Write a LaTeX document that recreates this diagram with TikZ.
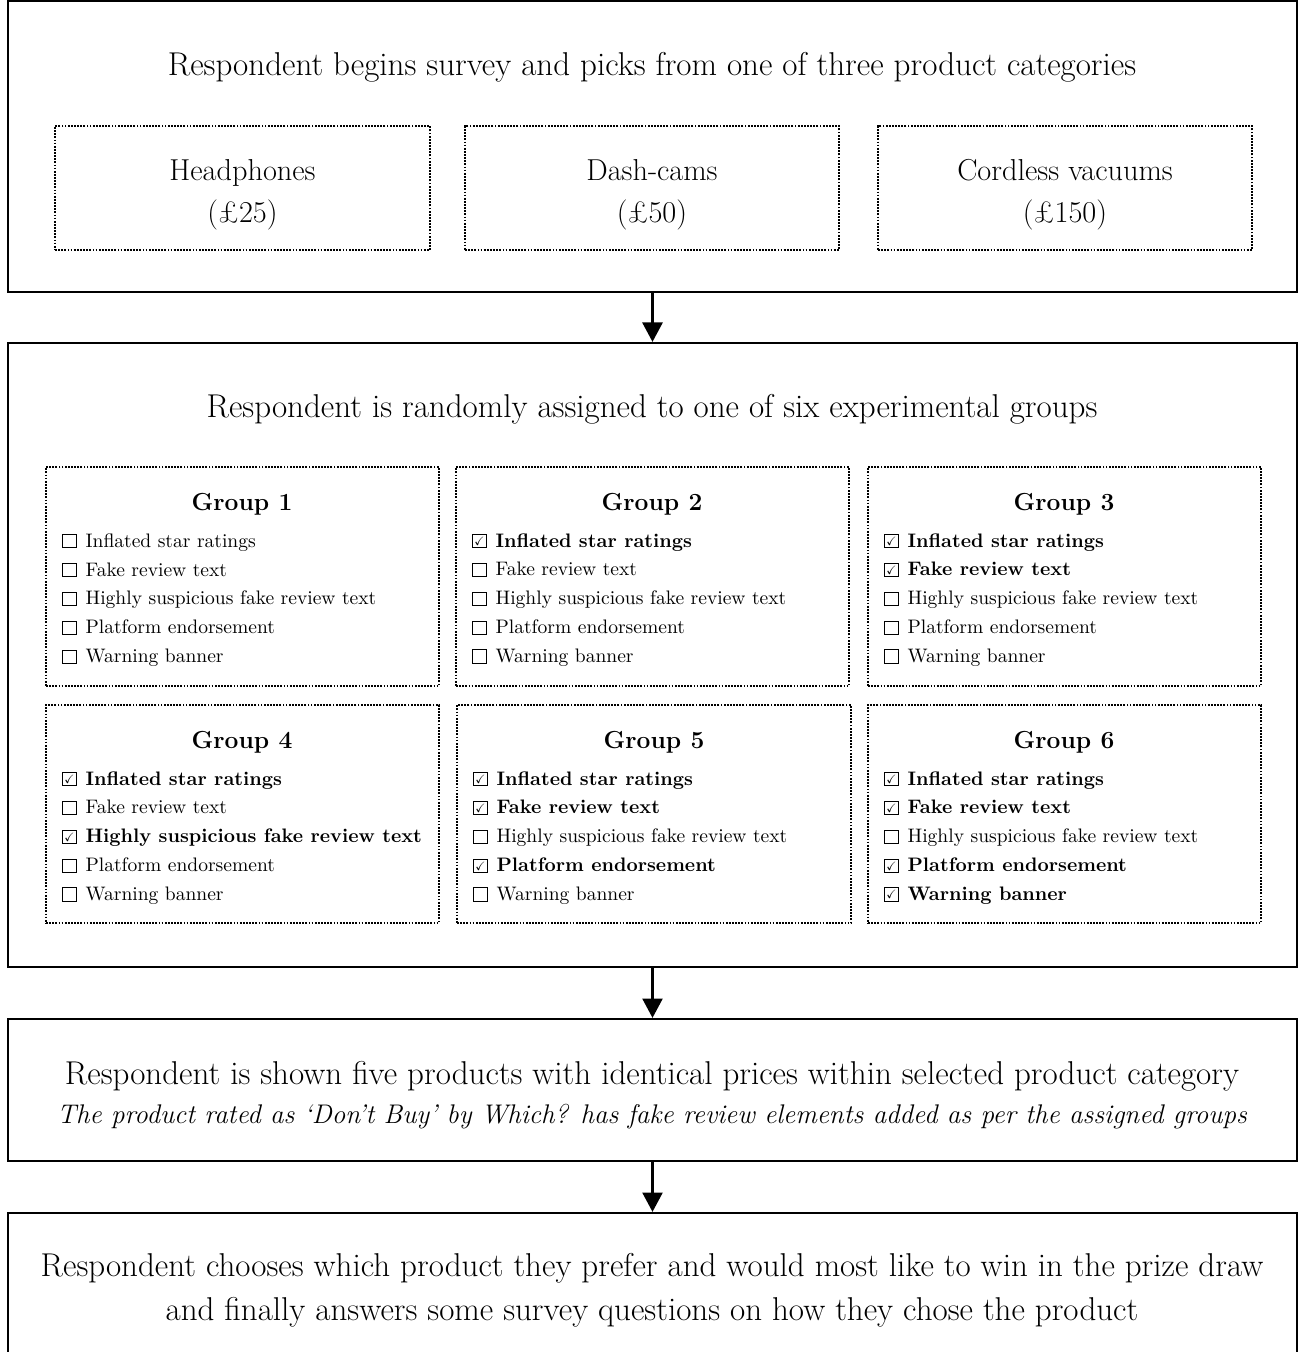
\documentclass[tikz,border=0pt]{standalone}
\usepackage{amssymb}
\usetikzlibrary{arrows.meta,fit}

\newcommand{\emptybox}{{\fboxsep=0pt\fboxrule=0.5pt\fbox{\rule{0pt}{6.3pt}\hspace{6.3pt}}}}
\newcommand{\tickbox}{\makebox[0pt][l]{\emptybox}\makebox[7.3pt]{\raisebox{0.9pt}{\scalebox{0.62}{$\checkmark$}}}}
\newcommand{\optoff}[1]{\emptybox\hspace{4.6pt}#1}
\newcommand{\opton}[1]{\tickbox\hspace{4.6pt}\textbf{#1}}

\tikzset{
  stagebox/.style={draw, line width=1pt, inner sep=0pt},
  choicebox/.style={draw, dash pattern=on 0.9pt off 0.7pt, line width=0.9pt, inner sep=0pt},
  bigtext/.style={font=\fontsize{16.9}{22.5}\selectfont, align=center},
  cattext/.style={font=\fontsize{15.5}{21.5}\selectfont, align=center},
  grouphead/.style={font=\fontsize{12.6}{15}\selectfont\bfseries},
  optlist/.style={font=\fontsize{10}{14.8}\selectfont, align=left, anchor=north west, inner sep=0pt},
  flow/.style={-{Triangle[length=10pt,width=10pt]}, line width=2pt}
}

\begin{document}
\begin{tikzpicture}[x=0.512pt,y=-0.512pt]
    \useasboundingbox (0,0) rectangle (1299,1352);

    % stage 1: product category
    \node[stagebox, fit={(8,1) (1297,292)}] (cat) {};
    \node[bigtext] (cattitle) at (652,67) {Respondent begins survey and picks from one of three product categories};
    \node[choicebox, fit={(55,126) (430,250)}] (hp) {};
    \node[cattext] (hptext) at (242.5,195) {Headphones\\(£25)};
    \node[choicebox, fit={(465,126) (839,250)}] (dc) {};
    \node[cattext] (dctext) at (652,195) {Dash-cams\\(£50)};
    \node[choicebox, fit={(878,126) (1252,250)}] (cv) {};
    \node[cattext] (cvtext) at (1065,195) {Cordless vacuums\\(£150)};

    % stage 2: experimental groups
    \node[stagebox, fit={(8,343) (1297,967)}] (grp) {};
    \node[bigtext] (grptitle) at (652,409) {Respondent is randomly assigned to one of six experimental groups};

    \node[choicebox, fit={(46,467) (439,686)}] (g1) {};
    \node[grouphead] (g1head) at (242,504) {Group 1};
    \node[optlist] (g1list) at (62,533) {\optoff{Inflated star ratings}\\ \optoff{Fake review text}\\ \optoff{Highly suspicious fake review text}\\ \optoff{Platform endorsement}\\ \optoff{Warning banner}};

    \node[choicebox, fit={(456,467) (849,686)}] (g2) {};
    \node[grouphead] (g2head) at (652,504) {Group 2};
    \node[optlist] (g2list) at (472,533) {\opton{Inflated star ratings}\\ \optoff{Fake review text}\\ \optoff{Highly suspicious fake review text}\\ \optoff{Platform endorsement}\\ \optoff{Warning banner}};

    \node[choicebox, fit={(868,467) (1261,686)}] (g3) {};
    \node[grouphead] (g3head) at (1064,504) {Group 3};
    \node[optlist] (g3list) at (884,533) {\opton{Inflated star ratings}\\ \opton{Fake review text}\\ \optoff{Highly suspicious fake review text}\\ \optoff{Platform endorsement}\\ \optoff{Warning banner}};

    \node[choicebox, fit={(46,705) (439,923)}] (g4) {};
    \node[grouphead] (g4head) at (242,742) {Group 4};
    \node[optlist] (g4list) at (62,771) {\opton{Inflated star ratings}\\ \optoff{Fake review text}\\ \opton{Highly suspicious fake review text}\\ \optoff{Platform endorsement}\\ \optoff{Warning banner}};

    \node[choicebox, fit={(457,705) (851,923)}] (g5) {};
    \node[grouphead] (g5head) at (654,742) {Group 5};
    \node[optlist] (g5list) at (473,771) {\opton{Inflated star ratings}\\ \opton{Fake review text}\\ \optoff{Highly suspicious fake review text}\\ \opton{Platform endorsement}\\ \optoff{Warning banner}};

    \node[choicebox, fit={(868,705) (1261,923)}] (g6) {};
    \node[grouphead] (g6head) at (1064,742) {Group 6};
    \node[optlist] (g6list) at (884,771) {\opton{Inflated star ratings}\\ \opton{Fake review text}\\ \optoff{Highly suspicious fake review text}\\ \opton{Platform endorsement}\\ \opton{Warning banner}};

    % stage 3: products shown
    \node[stagebox, fit={(8,1019) (1297,1161)}] (show) {};
    \node[bigtext] (showtext) at (652,1095) {Respondent is shown five products with identical prices within selected product category\\[-2.5pt]
      {\fontsize{13.8}{16}\selectfont\itshape The product rated as `Don't Buy' by Which? has fake review elements added as per the assigned groups}};

    % stage 4: choice
    \node[stagebox, fit={(8,1213) (1297,1365)}] (pick) {};
    \node[bigtext] (picktext) at (652,1290) {Respondent chooses which product they prefer and would most like to win in the prize draw\\
      and finally answers some survey questions on how they chose the product};

    \draw[flow] (cat) -- (grp);
    \draw[flow] (grp) -- (show);
    \draw[flow] (show) -- (pick);
  \end{tikzpicture}
\end{document}
